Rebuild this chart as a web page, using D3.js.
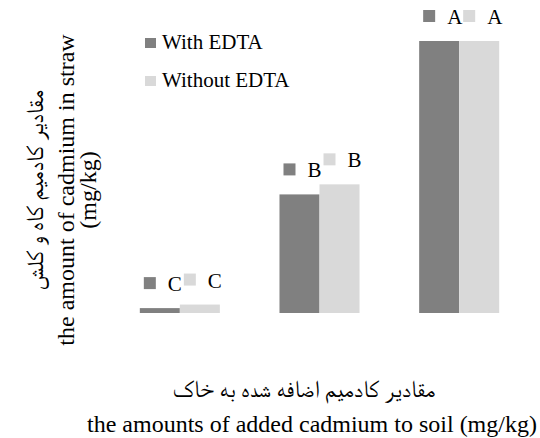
<!DOCTYPE html>
<html>
<head>
<meta charset="utf-8">
<script src="https://cdn.jsdelivr.net/npm/d3@7"></script>
</head>
<body style="margin:0;background:#fff">
<svg id="chart" width="540" height="438"></svg>
<script>
// ---- data ----
const categories = ["Cd level 1", "Cd level 2", "Cd level 3"];
const seriesNames = ["With EDTA", "Without EDTA"];
const withEDTA = [1.8, 43.6, 100];
const withoutEDTA = [3.1, 47.3, 100];
const lettersWith = ["C", "B", "A"];
const lettersWithout = ["C", "B", "A"];
const seriesColors = ["#808080", "#d9d9d9"];

const yTitleFa = "مقادیر کادمیم کاه و کلش";
const yTitleEn = "the amount of cadmium in straw";
const yTitleUnit = "(mg/kg)";
const xTitleFa = "مقادیر کادمیم اضافه شده به خاک";
const xTitleEn = "the amounts of added cadmium to soil (mg/kg)";

// ---- layout ----
const svg = d3.select("#chart");
const SERIF = '"Liberation Serif"';
const FA = '"FreeSerif", "Liberation Serif"';
const baseY = 313, topY = 41;

function txt(sel, size, fam) {
  return sel.style("font-family", fam || SERIF).style("font-size", size + "px").attr("fill", "#000");
}

const x0 = d3.scaleBand().domain(categories).range([110, 529]).paddingInner(0.427).paddingOuter(0.2135);
const x1 = d3.scaleBand().domain(seriesNames).range([0, x0.bandwidth()]);
const y = d3.scaleLinear().domain([0, 100]).range([baseY, topY]);

const rows = categories.map((c, i) => ({
  cat: c,
  vals: [
    { s: seriesNames[0], v: withEDTA[i], letter: lettersWith[i], color: seriesColors[0] },
    { s: seriesNames[1], v: withoutEDTA[i], letter: lettersWithout[i], color: seriesColors[1] }
  ]
}));

const groups = svg.append("g").selectAll("g.grp").data(rows).join("g")
  .attr("class", "grp")
  .attr("transform", d => `translate(${x0(d.cat)},0)`);

groups.selectAll("rect.bar").data(d => d.vals).join("rect")
  .attr("class", "bar")
  .attr("x", d => x1(d.s))
  .attr("width", x1.bandwidth())
  .attr("y", d => y(d.v))
  .attr("height", d => y(0) - y(d.v))
  .attr("fill", d => d.color);

// data labels: legend key square + letter
const lab = groups.selectAll("g.lab").data(d => d.vals).join("g")
  .attr("class", "lab")
  .attr("transform", d => `translate(${x1(d.s) + x1.bandwidth() / 2},${y(d.v) - 17})`);
lab.append("rect")
  .attr("x", -16).attr("y", -14)
  .attr("width", 12).attr("height", 12)
  .attr("fill", d => d.color);
txt(lab.append("text").attr("x", 8).attr("y", 0), 21).text(d => d.letter);

// legend
const leg = svg.append("g").attr("transform", "translate(145,38)");
seriesNames.forEach((s, i) => {
  const r = leg.append("g").attr("transform", `translate(0,${i * 38})`);
  r.append("rect").attr("x", 0).attr("y", 0).attr("width", 11).attr("height", 10).attr("fill", seriesColors[i]);
  txt(r.append("text").attr("x", 17).attr("y", 11), 21).text(s);
});

// y titles
const yt = svg.append("g").attr("transform", "translate(0,190) rotate(-90)");
txt(yt.append("text").attr("x", 0).attr("y", 43).attr("text-anchor", "middle").attr("direction", "rtl"), 24, FA).text(yTitleFa);
txt(yt.append("text").attr("x", 0).attr("y", 74).attr("text-anchor", "middle"), 24).text(yTitleEn);
txt(yt.append("text").attr("x", 0).attr("y", 96).attr("text-anchor", "middle"), 24).text(yTitleUnit);

// x titles
txt(svg.append("text").attr("x", 304).attr("y", 397).attr("text-anchor", "middle").attr("direction", "rtl"), 24, FA).text(xTitleFa);
txt(svg.append("text").attr("x", 312).attr("y", 432).attr("text-anchor", "middle"), 24).text(xTitleEn);
</script>
</body>
</html>
